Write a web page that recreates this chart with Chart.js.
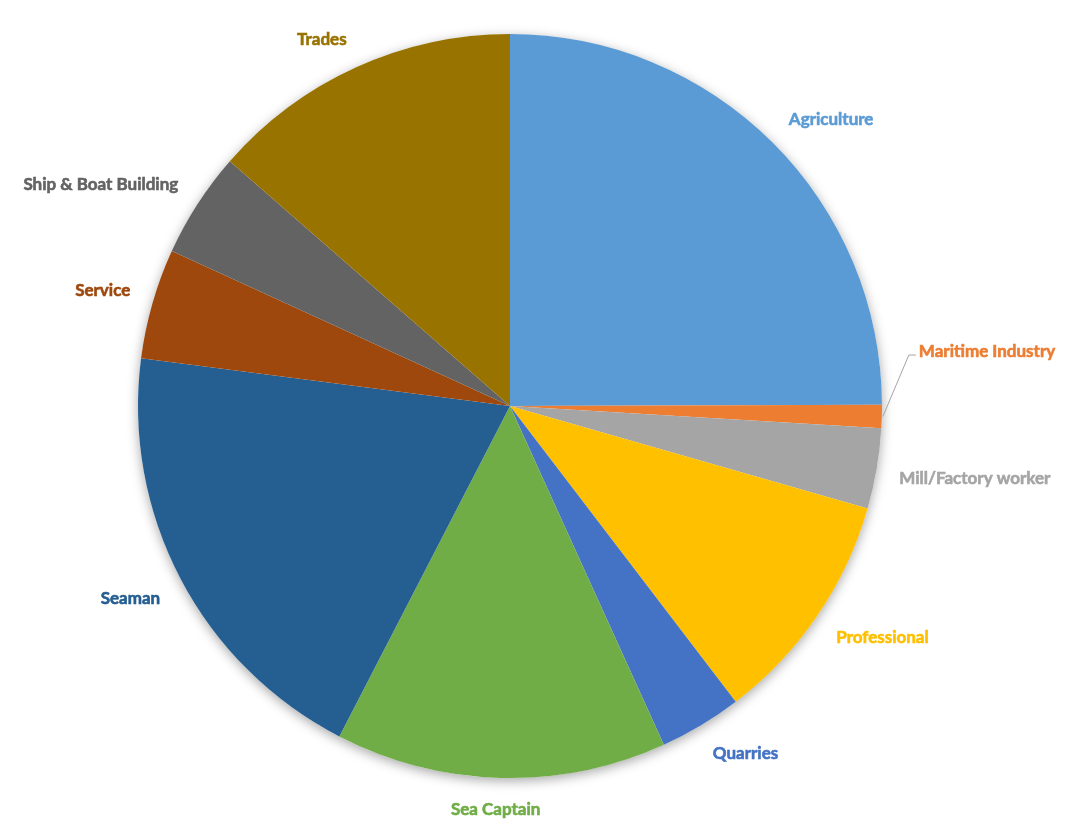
<!DOCTYPE html>
<html>
<head>
<meta charset="utf-8">
<script src="https://cdn.jsdelivr.net/npm/chart.js@4/dist/chart.umd.min.js"></script>
<style>
  html, body { margin: 0; padding: 0; background: #fff; }
  #wrap { width: 1080px; height: 831px; }
</style>
</head>
<body>
<div id="wrap"><canvas id="chart"></canvas></div>
<script>
// occupations (share of total)
const categories = ['Agriculture', 'Maritime Industry', 'Mill/Factory worker', 'Professional', 'Quarries',
                    'Sea Captain', 'Seaman', 'Service', 'Ship & Boat Building', 'Trades'];
const shares = [25.0, 1.0, 3.5, 10.2, 3.6, 14.4, 19.5, 4.8, 4.6, 13.6];
const colors = ['#5B9BD5', '#ED7D31', '#A5A5A5', '#FFC000', '#4472C4',
                '#70AD47', '#255E91', '#9E480E', '#636363', '#997300'];

// labels that Excel pushed away from their slice (moved with a leader line)
const labelNudge = { 1: { dx: 14, dy: -68 } };

// soft shadow under the pie
const pieShadow = {
    id: 'pieShadow',
    beforeDatasetsDraw(chart) {
        const arc = chart.getDatasetMeta(0).data[0];
        if (!arc) return;
        const ctx = chart.ctx;
        ctx.save();
        ctx.beginPath();
        ctx.arc(arc.x, arc.y, arc.outerRadius, 0, Math.PI * 2);
        ctx.fillStyle = '#fff';
        ctx.shadowColor = 'rgba(0,0,0,0.35)';
        ctx.shadowBlur = 12;
        ctx.shadowOffsetY = 3;
        ctx.fill();
        ctx.restore();
    }
};

const clamp = v => Math.max(-1, Math.min(1, v));

// outside-end labels in slice colour: nearest corner of the text box sits on the mid ray
const outsideLabels = {
    id: 'outsideLabels',
    afterDatasetsDraw(chart) {
        const ctx = chart.ctx;
        const meta = chart.getDatasetMeta(0);
        const h = 16;
        ctx.save();
        ctx.font = 'bold 17px Lato, "Open Sans", sans-serif';
        ctx.textBaseline = 'middle';
        ctx.textAlign = 'center';
        meta.data.forEach((arc, i) => {
            const p = arc.getProps(['x', 'y', 'startAngle', 'endAngle', 'outerRadius'], true);
            const mid = (p.startAngle + p.endAngle) / 2;
            const ux = Math.cos(mid), uy = Math.sin(mid);
            const r = p.outerRadius + 23;
            const w = ctx.measureText(categories[i]).width;
            let cx = p.x + r * ux + w / 2 * clamp(4 * ux);
            let cy = p.y + r * uy + h / 2 * clamp(4 * uy) + 1;
            const n = labelNudge[i];
            if (n) {
                cx += n.dx; cy += n.dy;
                const left = cx - w / 2;
                ctx.strokeStyle = '#A5A5A5';
                ctx.lineWidth = 1;
                ctx.beginPath();
                ctx.moveTo(p.x + (p.outerRadius + 1) * ux, p.y + (p.outerRadius + 1) * uy);
                ctx.lineTo(left - 10, cy + 4);
                ctx.lineTo(left - 3, cy + 4);
                ctx.stroke();
            }
            ctx.fillStyle = colors[i];
            ctx.strokeStyle = colors[i];
            ctx.lineWidth = 0.6;
            ctx.fillText(categories[i], cx, cy);
            ctx.strokeText(categories[i], cx, cy);
        });
        ctx.restore();
    }
};

new Chart(document.getElementById('chart'), {
    type: 'pie',
    data: {
        labels: categories,
        datasets: [{
            data: shares,
            backgroundColor: colors,
            borderWidth: 0
        }]
    },
    options: {
        responsive: true,
        maintainAspectRatio: false,
        animation: false,
        layout: { padding: { top: 34, bottom: 53, left: 100, right: 160 } },
        plugins: {
            legend: { display: false },
            tooltip: { enabled: false }
        }
    },
    plugins: [pieShadow, outsideLabels]
});
</script>
</body>
</html>
